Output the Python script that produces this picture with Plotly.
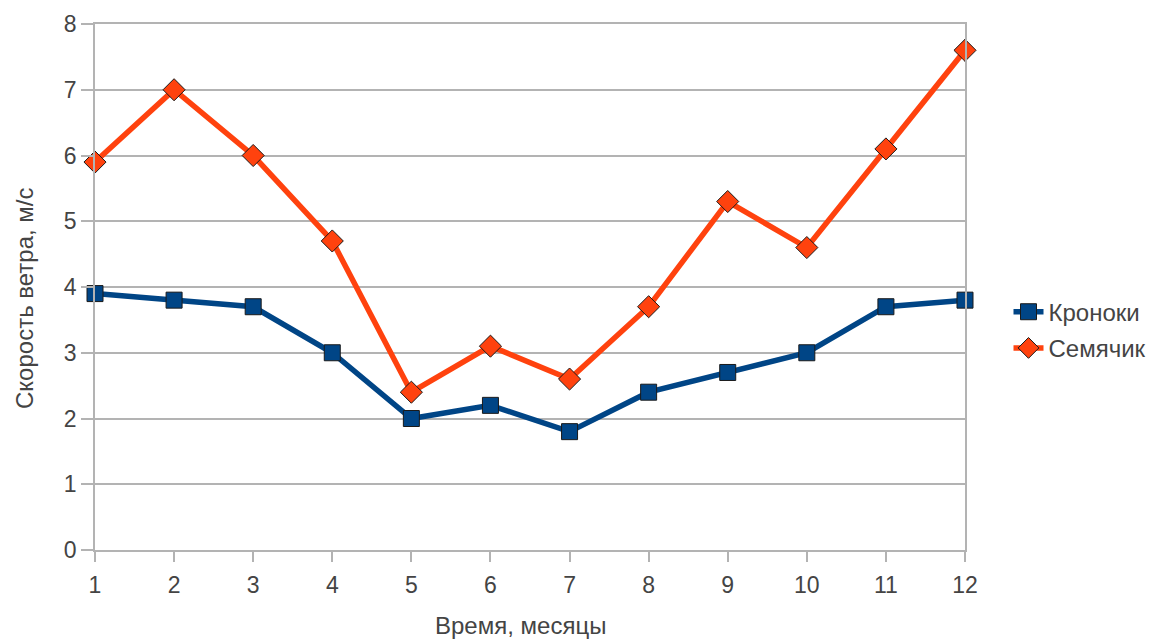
import plotly.graph_objects as go

months = list(range(1, 13))
kronoki = [3.9, 3.8, 3.7, 3.0, 2.0, 2.2, 1.8, 2.4, 2.7, 3.0, 3.7, 3.8]
semyachik = [5.9, 7.0, 6.0, 4.7, 2.4, 3.1, 2.6, 3.7, 5.3, 4.6, 6.1, 7.6]

x_title = "Время, месяцы"
y_title = "Скорость ветра, м/с"

blue = "#004586"
orange = "#ff420e"
grid = "#b3b3b3"
text_color = "#444444"
font = "Liberation Sans, Arial, sans-serif"

W, H = 1159, 639
L, R, T, B = 95, 194, 24, 89

fig = go.Figure()
fig.add_trace(go.Scatter(
    x=months, y=kronoki, name="Кроноки", mode="lines+markers",
    legendgroup="k",
    line=dict(color=blue, width=5.5),
    marker=dict(symbol="square", size=16, color=blue,
                line=dict(color="#1a1a1a", width=1)),
    cliponaxis=False,
))
fig.add_trace(go.Scatter(
    x=months, y=semyachik, name="Семячик", mode="lines+markers",
    legendgroup="s",
    line=dict(color=orange, width=5.5),
    marker=dict(symbol="diamond", size=17, color=orange,
                line=dict(color="#1a1a1a", width=1)),
    cliponaxis=False,
))

# axis titles placed as annotations so the plot area keeps its fixed margins
fig.add_annotation(text=x_title, xref="paper", yref="paper",
                   x=(520 - L) / (W - L - R), y=-(625 - (H - B)) / (H - T - B),
                   xanchor="center", yanchor="middle", showarrow=False,
                   font=dict(size=24, color=text_color))
fig.add_annotation(text=y_title, xref="paper", yref="paper",
                   x=-(L - 24) / (W - L - R), y=((H - B) - 298) / (H - T - B),
                   xanchor="center", yanchor="middle", showarrow=False,
                   textangle=-90, font=dict(size=24, color=text_color))

fig.update_layout(
    width=W, height=H,
    margin=dict(l=L, r=R, t=T, b=B, autoexpand=False),
    paper_bgcolor="white", plot_bgcolor="white",
    font=dict(family=font, size=23, color=text_color),
    showlegend=True,
    legend=dict(x=1.05, y=0.418, xanchor="left", yanchor="middle",
                font=dict(size=24, color=text_color),
                itemwidth=30, tracegroupgap=2, traceorder="grouped",
                bgcolor="rgba(0,0,0,0)"),
    xaxis=dict(
        range=[1, 12], tickvals=months, ticktext=[str(m) for m in months],
        showgrid=False, zeroline=False, automargin=False,
        showline=True, linecolor=grid, linewidth=1.5, mirror=True,
        ticks="outside", ticklen=10, tickcolor=grid, tickwidth=1.5,
        ticklabelstandoff=4,
        tickfont=dict(size=23, color=text_color),
    ),
    yaxis=dict(
        range=[0, 8], tickvals=list(range(0, 9)),
        showgrid=True, gridcolor=grid, gridwidth=1.5, zeroline=False,
        automargin=False,
        showline=True, linecolor=grid, linewidth=1.5, mirror=True,
        ticks="outside", ticklen=12, tickcolor=grid, tickwidth=1.5,
        tickfont=dict(size=23, color=text_color),
    ),
)

fig.write_html("out.html")
